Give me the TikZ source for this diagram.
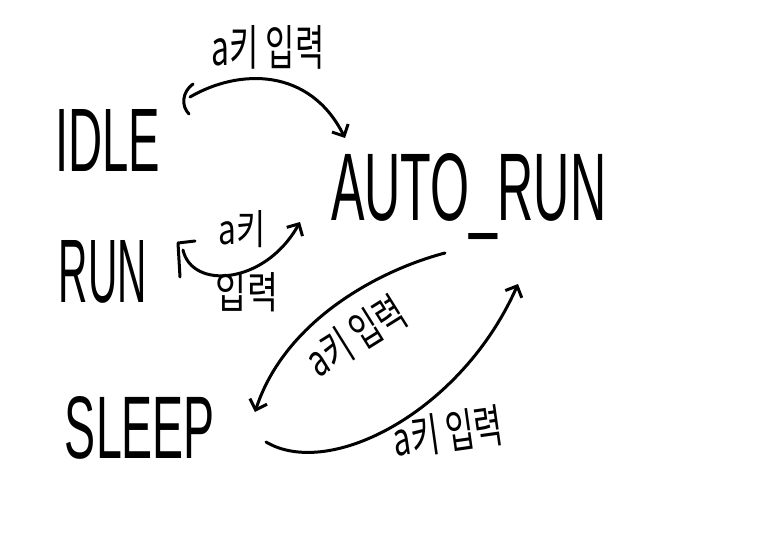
\documentclass[tikz,border=0pt]{standalone}
\usepackage{fontspec}
\setmainfont{Liberation Sans}
\newfontfamily\kr{Noto Sans CJK KR}
\usetikzlibrary{arrows.meta}
\tikzset{
  state/.style={inner sep=0pt, font=\normalfont},
  elabel/.style={inner sep=0pt, font=\kr},
  conn/.style={line width=3pt, line cap=round, line join=round,
    -{Straight Barb[length=9pt,width=18pt,line width=3pt]}},
  tick/.style={line width=3pt, line cap=round, line join=round}
}
\begin{document}
\begin{tikzpicture}[x=1pt,y=-1pt]
\useasboundingbox (0,0) rectangle (758,553);
% states
\node[state] (idle) at (108,140) {\resizebox{105pt}{62pt}{IDLE}};
\node[state,anchor=base west] (auto) at (331,221) {\resizebox{275pt}{67pt}{AUTO\_RUN}};
\node[state] (run) at (103,272) {\resizebox{88pt}{62pt}{RUN}};
\node[state] (sleep) at (140,428) {\resizebox{150pt}{62pt}{SLEEP}};
% edge labels
\node[elabel] (l1) at (268,47) {\resizebox{113pt}{40pt}{a키 입력}};
\node[elabel] (l2a) at (242,229) {\resizebox{47pt}{34pt}{a키}};
\node[elabel] (l2b) at (247,292) {\resizebox{62pt}{36pt}{입력}};
\node[elabel,rotate=32] (l3) at (356,336) {\resizebox{108pt}{36pt}{a키 입력}};
\node[elabel,rotate=8] (l4) at (448,432) {\resizebox{110pt}{38pt}{a키 입력}};
% connector ends
\coordinate (s1) at (190,97);
\coordinate (s2) at (183,250);
\coordinate (e1) at (345,138);
\coordinate (e2) at (300,222);
\coordinate (s3) at (445,253);
\coordinate (e3) at (255,412);
\coordinate (s4) at (266,442);
\coordinate (e4) at (518,284);
% start marks
\draw[tick] (193,84) .. controls (182,92) and (181,106) .. (189,114);
\draw[tick] (180,277) -- (178,243) -- (195,241);
% connectors
\draw[conn] (s1) .. controls (240,68) and (310,68) .. (e1);
\draw[conn] (s2) .. controls (192,290) and (265,285) .. (e2);
\draw[conn] (s3) .. controls (380,270) and (285,320) .. (e3);
\draw[conn] (s4) .. controls (330,480) and (462,411) .. (e4);
\end{tikzpicture}
\end{document}
